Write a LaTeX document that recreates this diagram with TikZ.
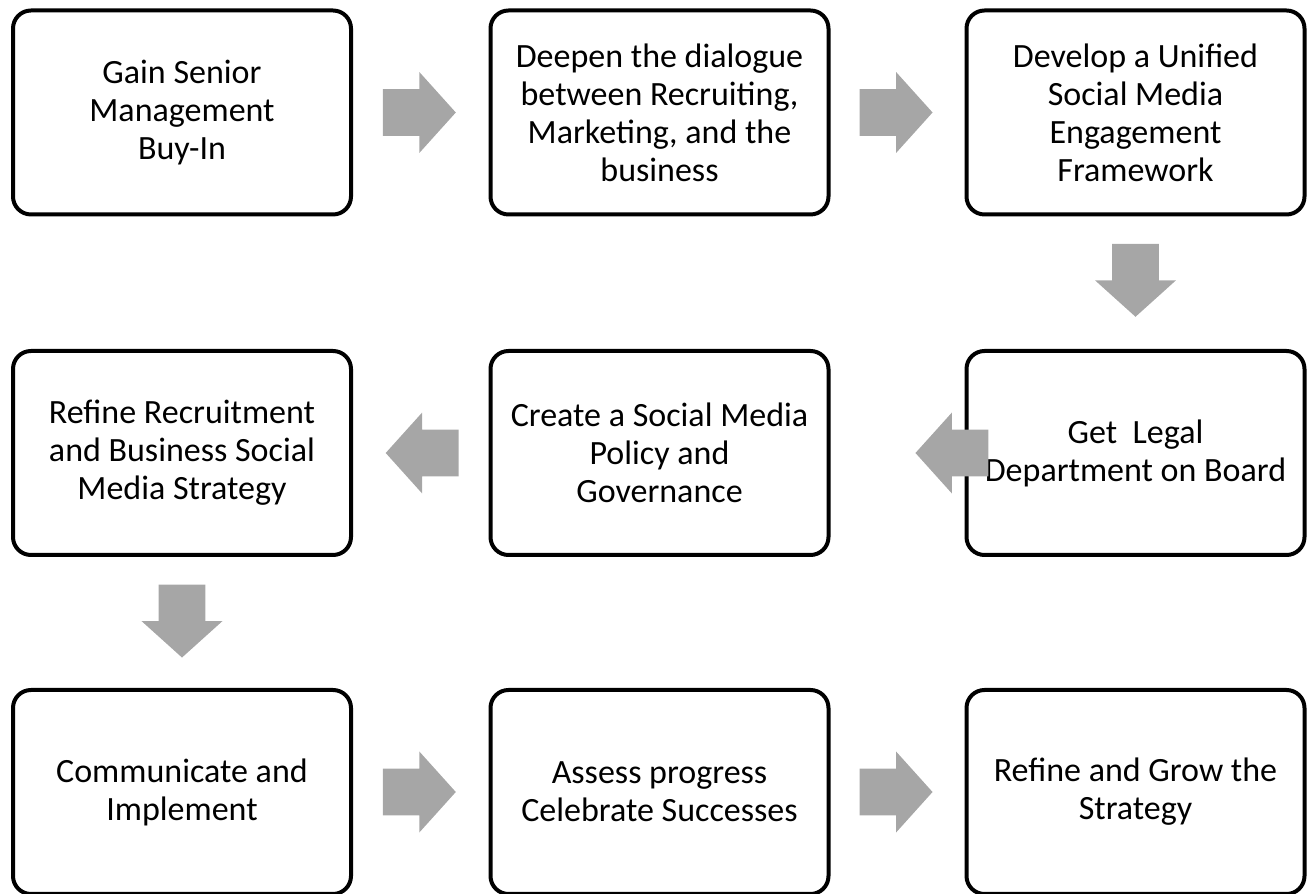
\documentclass[tikz,border=0pt]{standalone}
\usepackage{fontspec}
\setmainfont{Carlito}
\usetikzlibrary{shapes.arrows,calc}
\definecolor{arrgray}{RGB}{166,166,166}
\begin{document}
\begin{tikzpicture}[x=0.5pt,y=0.5pt,
    stepbox/.style={draw, line width=2pt, rounded corners=9pt, minimum width=169pt,
        minimum height=102pt, align=center, inner sep=0pt,
        font=\fontsize{17}{19}\selectfont},
    blockarr/.style={single arrow, fill=arrgray, draw=none, inner sep=11.5pt,
        minimum height=36.5pt, minimum width=40pt, single arrow head extend=8.5pt,
        single arrow tip angle=96}]
        \useasboundingbox (0,0) rectangle (1307,894);
        \node[stepbox] (gain) at (182,781.5) {Gain Senior\\Management\\Buy-In};
        \node[stepbox] (deepen) at (659.5,781.5) {Deepen the dialogue\\between Recruiting,\\Marketing, and the\\business};
        \node[stepbox] (develop) at (1135.5,781.5) {Develop a Unified\\Social Media\\Engagement\\Framework};
        \node[stepbox] (legal) at (1135.5,441) {Get\ \ Legal\\Department on Board};
        \node[stepbox] (policy) at (659.5,441) {Create a Social Media\\Policy and\\Governance};
        \node[stepbox] (refine) at (182,441) {Refine Recruitment\\and Business Social\\Media Strategy};
        \node[stepbox] (comm) at (182,102) {Communicate and\\Implement};
        \node[stepbox] (assess) at (659.5,102) {Assess progress\\Celebrate Successes};
        \node[stepbox] (grow) at (1135.5,102) {Refine and Grow the\\Strategy};
        \node[blockarr] (a1) at ($(gain.east)!0.5!(deepen.west)+(-12,0)$) {};
        \node[blockarr] (a2) at ($(deepen.east)!0.5!(develop.west)+(-12,0)$) {};
        \node[blockarr, shape border rotate=270] (a3) at ($(develop.south)!0.5!(legal.north)+(0,13)$) {};
        \node[blockarr, shape border rotate=180] (a4) at ($(legal.west)+(-2,0)$) {};
        \node[blockarr, shape border rotate=180] (a5) at ($(policy.west)!0.5!(refine.east)+(12,0)$) {};
        \node[blockarr, shape border rotate=270] (a6) at ($(refine.south)!0.5!(comm.north)+(0,12)$) {};
        \node[blockarr] (a7) at ($(comm.east)!0.5!(assess.west)+(-12,0)$) {};
        \node[blockarr] (a8) at ($(assess.east)!0.5!(grow.west)+(-12,0)$) {};
    \end{tikzpicture}
\end{document}
